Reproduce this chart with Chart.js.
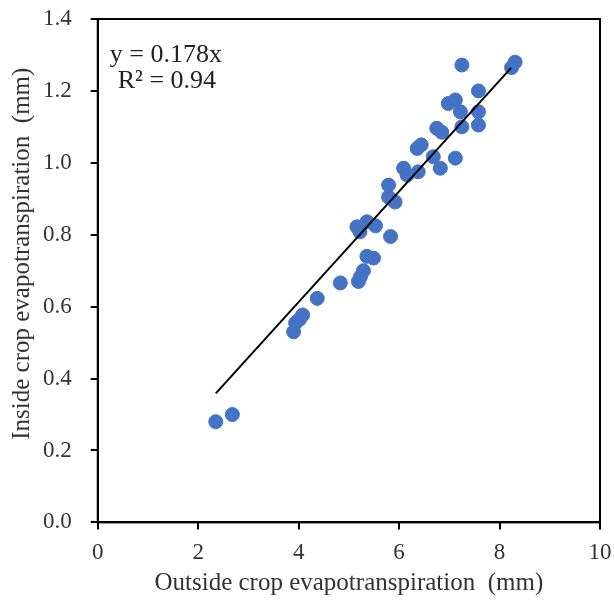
<!DOCTYPE html>
<html>
<head>
<meta charset="utf-8">
<script src="https://cdn.jsdelivr.net/npm/chart.js@4"></script>
<style>
  html, body { margin: 0; padding: 0; background: #fff; }
  #wrap { width: 614px; height: 607px; }
</style>
</head>
<body>
<div id="wrap"><canvas id="etChart" width="614" height="607"></canvas></div>
<script>
const outsideET = [2.35, 2.68, 3.90, 3.94, 4.02, 4.08, 4.37, 4.83, 5.19, 5.23, 5.29, 5.36, 5.49, 5.83,
  5.16, 5.22, 5.36, 5.53, 5.79, 5.79, 5.92, 6.09, 6.16, 6.38, 6.36, 6.44, 6.68, 6.82, 7.12,
  6.75, 6.85, 7.25, 7.58, 7.22, 7.58, 6.98, 7.12, 7.58, 7.25, 8.24, 8.31];
const insideET = [0.28, 0.30, 0.53, 0.555, 0.565, 0.577, 0.623, 0.666, 0.67, 0.683, 0.70, 0.74, 0.735, 0.795,
  0.822, 0.808, 0.836, 0.825, 0.938, 0.905, 0.891, 0.985, 0.966, 0.975, 1.04, 1.05, 1.017, 0.985, 1.013,
  1.096, 1.085, 1.10, 1.105, 1.142, 1.142, 1.165, 1.175, 1.20, 1.272, 1.265, 1.28];
const trendX = [2.35, 8.23];
const trendY = [0.359, 1.264];
const eqLines = ["y = 0.178x", "R\u00b2 = 0.94"];
const xTitle = "Outside crop evapotranspiration  (mm)";
const yTitle = "Inside crop evapotranspiration  (mm)";

const serif = "'Liberation Serif', 'DejaVu Serif', serif";

// frame around the plot area, the fit equation and the vertical axis title
const framePlugin = {
  id: "frame",
  afterDraw(chart) {
    const { ctx, chartArea: a } = chart;
    ctx.save();
    ctx.strokeStyle = "#000";
    ctx.lineWidth = 2;
    ctx.strokeRect(a.left, a.top, a.right - a.left, a.bottom - a.top);
    ctx.fillStyle = "#222";
    ctx.font = "26px " + serif;
    ctx.textBaseline = "middle";
    ctx.fillText(eqLines[0], a.left + 12, a.top + 36);
    ctx.fillText(eqLines[1], a.left + 20, a.top + 62);

    // title sits a little above the middle of the axis
    ctx.fillStyle = "#333";
    ctx.font = "25px " + serif;
    ctx.textAlign = "center";
    ctx.translate(22, (a.top + a.bottom) / 2 - 17);
    ctx.rotate(-Math.PI / 2);
    ctx.fillText(yTitle, 0, 0);
    ctx.restore();
  },
};

new Chart(document.getElementById("etChart"), {
  type: "scatter",
  data: {
    datasets: [
      {
        label: "ET",
        data: outsideET.map((x, i) => ({ x: x, y: insideET[i] })),
        backgroundColor: "#4472C4",
        borderColor: "#4472C4",
        pointRadius: 7,
        pointHoverRadius: 7,
        order: 2,
      },
      {
        label: "fit",
        type: "line",
        data: trendX.map((x, i) => ({ x: x, y: trendY[i] })),
        borderColor: "#000",
        borderWidth: 2,
        pointRadius: 0,
        fill: false,
        order: 1,
      },
    ],
  },
  options: {
    responsive: false,
    animation: false,
    layout: { padding: { top: 19, right: 14, left: 24, bottom: 5 } },
    plugins: { legend: { display: false }, tooltip: { enabled: false } },
    scales: {
      x: {
        type: "linear",
        min: 0,
        max: 10,
        afterFit: (s) => {
          s.paddingLeft = 0;
          s.paddingRight = 0;
        },
        ticks: { stepSize: 2, color: "#333", font: { family: serif, size: 23 }, padding: 10 },
        grid: { drawOnChartArea: false, drawTicks: true, tickLength: 7, color: "#000", lineWidth: 2 },
        border: { color: "#000", width: 2 },
        title: { display: true, text: xTitle, color: "#333", font: { family: serif, size: 25 }, padding: { top: -9 } },
      },
      y: {
        type: "linear",
        min: 0,
        max: 1.4,
        afterFit: (s) => {
          s.paddingTop = 0;
          s.paddingBottom = 0;
        },
        ticks: {
          stepSize: 0.2,
          color: "#333",
          font: { family: serif, size: 23 },
          padding: 19,
          callback: (v) => v.toFixed(1),
        },
        grid: { drawOnChartArea: false, drawTicks: true, tickLength: 7, color: "#000", lineWidth: 2 },
        border: { color: "#000", width: 2 },
        title: { display: false },
      },
    },
  },
  plugins: [framePlugin],
});
</script>
</body>
</html>
